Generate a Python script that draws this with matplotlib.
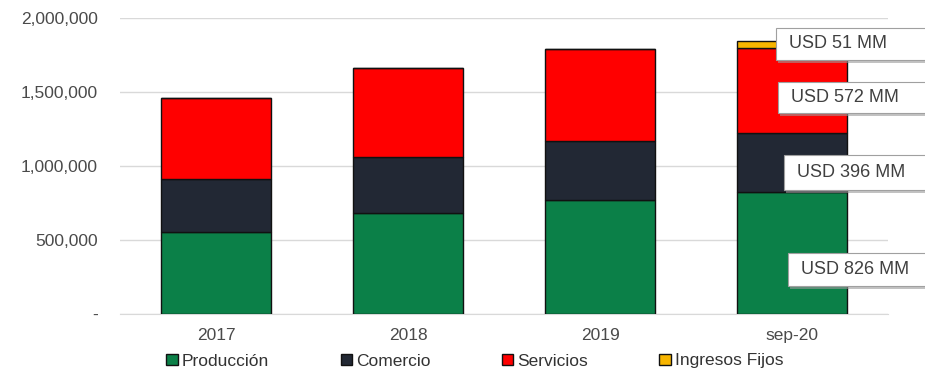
import matplotlib.pyplot as plt
from matplotlib.patches import Rectangle
from matplotlib.ticker import FuncFormatter

# ingresos por sector (miles de USD)
periodos = ['2017', '2018', '2019', 'sep-20']
produccion = [554000, 682000, 770000, 826000]
comercio = [358000, 379000, 399000, 396000]
servicios = [547000, 601000, 622000, 572000]
ingresos_fijos = [0, 0, 0, 51000]

series = ['Producción', 'Comercio', 'Servicios', 'Ingresos Fijos']
colores = ['#0b8048', '#222834', '#ff0000', '#f7b500']

# cajas de texto para sep-20: (texto, x0, y0, x1, y1) en pixeles de la figura
etiquetas = ['USD 826 MM', 'USD 396 MM', 'USD 572 MM', 'USD 51 MM']
cajas = [(788, 253, 945, 286), (784, 155, 945, 190), (778, 82, 945, 113), (776, 28, 945, 60)]

plt.rcParams['font.family'] = ['Liberation Sans', 'DejaVu Sans']
W, H = 925, 376
fig = plt.figure(figsize=(W / 100, H / 100), dpi=100)
ax = fig.add_axes([120 / W, (H - 314) / H, 768 / W, 296 / H])

x = list(range(len(periodos)))
base = [0] * len(periodos)
for nombre, vals, col in zip(series, [produccion, comercio, servicios, ingresos_fijos], colores):
    ax.bar(x, vals, width=0.575, bottom=base, color=col, edgecolor='#111111',
           linewidth=1, label=nombre, zorder=3)
    base = [b + v for b, v in zip(base, vals)]

ax.set_xlim(-0.5, 3.5)
ax.set_ylim(0, 2000000)
ax.set_yticks([0, 500000, 1000000, 1500000, 2000000])
ax.yaxis.set_major_formatter(FuncFormatter(lambda v, p: '-' if v == 0 else f'{int(v):,}'))
ax.set_xticks(x)
ax.set_xticklabels(periodos)
ax.tick_params(axis='both', length=0, labelsize=12.5, colors='#4a4a4a')
ax.tick_params(axis='y', pad=16)
ax.tick_params(axis='x', pad=10)
ax.grid(axis='y', color='#d9d9d9', linewidth=1, zorder=0)
for s in ['top', 'right', 'left']:
    ax.spines[s].set_visible(False)
ax.spines['bottom'].set_color('#d9d9d9')

leg = ax.legend(loc='center', bbox_to_anchor=(0.5 * (165 + 785) / W, (H - 361) / H),
                bbox_transform=fig.transFigure, ncol=4, frameon=False, fontsize=12.5,
                handlelength=0.65, handleheight=0.65, handletextpad=0.25, columnspacing=4.1,
                labelcolor='#333333')

for texto, (x0, y0, x1, y1) in zip(etiquetas, cajas):
    # sombra
    fig.patches.append(Rectangle(((x0 + 2) / W, (H - y1 - 3) / H), (x1 - x0) / W, (y1 - y0) / H,
                                 transform=fig.transFigure, facecolor='#9a9a9a', edgecolor='none',
                                 alpha=0.6, zorder=4))
    fig.patches.append(Rectangle((x0 / W, (H - y1) / H), (x1 - x0) / W, (y1 - y0) / H,
                                 transform=fig.transFigure, facecolor='white', edgecolor='#a0a0a0',
                                 linewidth=0.8, zorder=5))
    fig.text((x0 + 13) / W, (H - (y0 + y1) / 2) / H, texto, fontsize=13, color='#404040',
             ha='left', va='center', zorder=6)

fig.savefig('out.png', dpi=100)
